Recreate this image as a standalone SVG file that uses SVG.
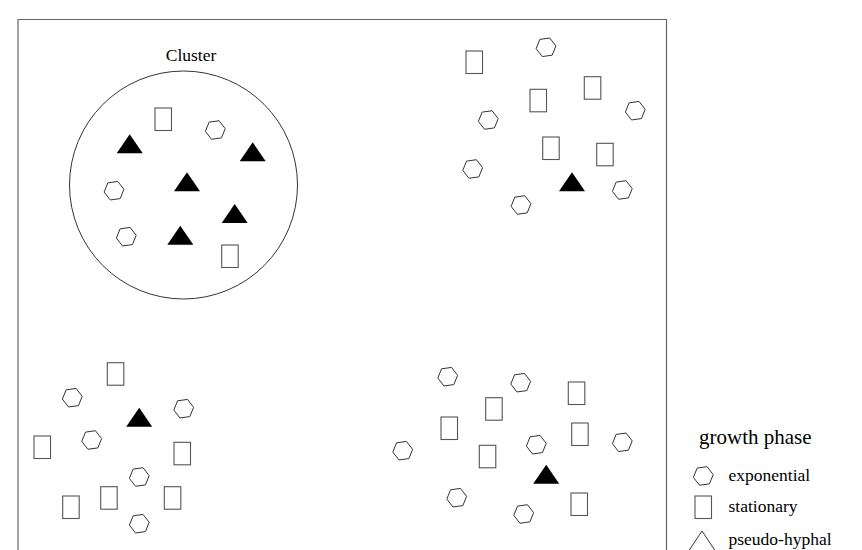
<svg xmlns="http://www.w3.org/2000/svg" width="862" height="550" viewBox="0 0 862 550">
<defs>
<style>
.hexs{fill:none;stroke:#333;stroke-width:1}
.rc{fill:none;stroke:#555;stroke-width:1.1}
.tri{fill:#000;stroke:none}
text{font-family:"Liberation Serif","Times New Roman","DejaVu Serif",serif;fill:#000}
</style>
<polygon id="hex" class="hexs" points="9.9,-1.39 6.16,7.88 -3.75,9.27 -9.9,1.39 -6.16,-7.88 3.75,-9.27"/>
<rect id="rc" class="rc" x="0" y="0" width="16.5" height="22.5"/>
<polygon id="tri" class="tri" points="0,0 13,19 -13,19"/>
</defs>
<rect width="862" height="550" fill="#fff"/>
<path id="frame" d="M18,560 V19.5 H666.5 V560" fill="none" stroke="#666" stroke-width="1.2"/>

<g id="cluster1">
<circle cx="183.5" cy="185" r="114" fill="none" stroke="#333" stroke-width="1"/>
<text x="191" y="61" font-size="17.5" text-anchor="middle" font-family="Liberation Serif, serif">Cluster</text>
<use href="#rc" x="155" y="108"/>
<use href="#hex" x="215.3" y="130"/>
<use href="#tri" x="129.7" y="134.3"/>
<use href="#tri" x="252.7" y="142.3"/>
<use href="#tri" x="187" y="172.3"/>
<use href="#tri" x="234.7" y="204"/>
<use href="#tri" x="180.3" y="225.7"/>
<use href="#hex" x="114" y="190.7"/>
<use href="#hex" x="126.3" y="236.7"/>
<use href="#rc" x="221.7" y="245"/>
</g>

<g id="cluster2">
<use href="#hex" x="546" y="47.3"/>
<use href="#rc" x="466" y="51"/>
<use href="#rc" x="584.3" y="76.7"/>
<use href="#rc" x="530" y="89.3"/>
<use href="#hex" x="635.3" y="110.7"/>
<use href="#hex" x="488.3" y="120"/>
<use href="#rc" x="542.7" y="137"/>
<use href="#rc" x="596.7" y="143.3"/>
<use href="#hex" x="472.7" y="169"/>
<use href="#tri" x="572" y="172.3"/>
<use href="#hex" x="622.3" y="190"/>
<use href="#hex" x="521" y="205"/>
</g>

<g id="cluster3">
<use href="#rc" x="107.3" y="362.7"/>
<use href="#hex" x="72.3" y="397.7"/>
<use href="#tri" x="139.2" y="407.7"/>
<use href="#hex" x="183.7" y="408.7"/>
<use href="#rc" x="34" y="436"/>
<use href="#hex" x="91.7" y="440"/>
<use href="#rc" x="174" y="442.3"/>
<use href="#hex" x="139.3" y="477"/>
<use href="#rc" x="100.7" y="486.7"/>
<use href="#rc" x="164.3" y="486.7"/>
<use href="#rc" x="62.7" y="496"/>
<use href="#hex" x="139.3" y="523.7"/>
</g>

<g id="cluster4">
<use href="#hex" x="447.7" y="376.7"/>
<use href="#hex" x="520.7" y="382.7"/>
<use href="#rc" x="568.3" y="382"/>
<use href="#rc" x="485.7" y="397.7"/>
<use href="#rc" x="441" y="417"/>
<use href="#rc" x="571.7" y="423"/>
<use href="#hex" x="622.3" y="442.3"/>
<use href="#hex" x="536.3" y="444.7"/>
<use href="#hex" x="402.7" y="450.7"/>
<use href="#rc" x="479.3" y="445.3"/>
<use href="#tri" x="546.2" y="464.7"/>
<use href="#hex" x="456.7" y="497.7"/>
<use href="#rc" x="571" y="493"/>
<use href="#hex" x="523.7" y="514"/>
</g>

<g id="legend">
<text x="699" y="444" font-size="21" font-family="Liberation Serif, serif">growth phase</text>
<use href="#hex" x="703.3" y="476"/>
<text x="728.5" y="481" font-size="17.5" font-family="Liberation Serif, serif">exponential</text>
<use href="#rc" x="695" y="496"/>
<text x="728.5" y="512" font-size="17.5" font-family="Liberation Serif, serif">stationary</text>
<path d="M688,552 L702,531 L716,552" fill="none" stroke="#333" stroke-width="1"/>
<text x="728.5" y="545" font-size="17.5" font-family="Liberation Serif, serif">pseudo-hyphal</text>
</g>
</svg>
